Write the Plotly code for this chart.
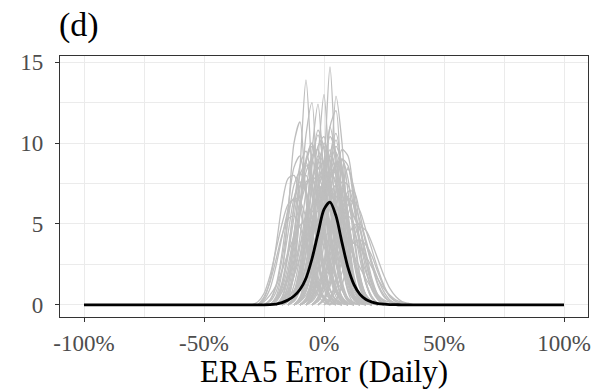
import plotly.graph_objects as go

# ---------------- data ----------------
# mean density curve (black), x in percent error
MEAN_X = [-100, -75, -50, -30, -27.5, -25, -22.5, -20, -17.5, -15, -12.5, -10, -7.5, -5, -2.5,
          0, 2.5, 5, 7.5, 10, 12.5, 15, 17.5, 20, 22.5, 25, 27.5, 30, 32.5, 35, 50, 75, 100]
MEAN_Y = [0, 0, 0, 0, 0, 0, 0.01, 0.05, 0.14, 0.30, 0.55, 0.95, 1.65, 2.85, 4.40,
          5.90, 6.35, 5.50, 3.85, 2.30, 1.25, 0.65, 0.33, 0.17, 0.08, 0.04, 0.02, 0.01, 0, 0, 0, 0, 0]

# individual station density curves (grey): start x (percent) and values every 2.5 %
GRID_STEP = 2.5
GREY_START = [
    -10, -20, -12.5, -5, -15, -17.5, -22.5, -7.5,
    -17.5, -15, -10, -22.5, -10, -5, -20, -12.5, -25, -2.5, -15, -10, -27.5,
    -17.5, -12.5, -22.5, -12.5, -5, -2.5, -17.5, -30, -27.5, -7.5, -20, 0, -22.5, -7.5,
    -20, -10, -27.5, 0, -22.5, -10,
    -15, -12.5, -20, -7.5, -17.5, -10, -25, -12.5, -5, -17.5,
    -22.5, -10, -15, -12.5, -20, -7.5, -15, -10, -5, -25,
    -12.5, -2.5, -17.5, -7.5, -15, -20, 0, -10, -12.5, -22.5,
    -5, -15, -10, -27.5, 2.5, -7.5, -20, -12.5, -2.5, -17.5,
]
GREY_VALUES = [
    [0, 0.3, 1.5, 4.5, 8.5, 14.7, 8.0, 3.0, 0.8, 0.1, 0],
    [0, 0.2, 1.2, 4.0, 8.5, 13.9, 8.0, 3.0, 1.0, 0.3, 0],
    [0, 0.3, 1.5, 4.5, 9.0, 13.0, 7.5, 3.0, 1.0, 0.2, 0],
    [0, 0.5, 2.5, 7.0, 12.9, 10.0, 4.5, 1.5, 0.4, 0],
    [0, 0.3, 1.5, 5.0, 9.5, 12.4, 7.5, 3.0, 0.8, 0.2, 0],
    [0, 0.4, 2.0, 6.0, 10.5, 12.5, 6.0, 2.0, 0.6, 0.1, 0],
    [0, 0.5, 2.0, 5.5, 10.0, 11.3, 6.5, 3.0, 1.0, 0.3, 0],
    [0, 0.4, 2.0, 5.5, 11.0, 12.0, 6.0, 2.0, 0.6, 0.1, 0],
    [0, 0.2, 0.8, 2.5, 5.5, 8.8, 10.5, 8.5, 4.8, 1.8, 0.5, 0.1, 0],
    [0, 0.3, 1.2, 3.3, 6.2, 8.7, 9.8, 7.5, 4.0, 1.5, 0.4, 0.1, 0],
    [0, 0.2, 0.8, 2.4, 5.2, 8.5, 10.2, 8.0, 4.2, 1.6, 0.5, 0.1, 0],
    [0, 0.3, 1.2, 3.2, 6.2, 8.6, 9.5, 7.5, 4.2, 1.6, 0.5, 0.1, 0],
    [0, 0.3, 1.2, 3.5, 7.5, 11.0, 9.0, 5.5, 2.8, 1.2, 0.4, 0.1, 0],
    [0, 0.3, 1.2, 3.5, 7.0, 9.0, 7.8, 4.5, 1.8, 0.5, 0.1, 0],
    [0, 0.2, 0.9, 2.8, 5.8, 8.8, 10.0, 8.0, 4.5, 1.8, 0.5, 0.1, 0],
    [0, 0.4, 1.8, 4.0, 7.2, 8.5, 7.8, 8.8, 4.8, 2.0, 0.5, 0.1, 0],
    [0, 0.3, 1.2, 3.2, 6.0, 8.5, 9.2, 7.0, 3.8, 1.5, 0.4, 0],
    [0, 0.3, 1.2, 3.5, 6.8, 8.5, 6.8, 3.5, 1.3, 0.4, 0.1, 0],
    [0, 0.4, 1.6, 4.1, 7.4, 9.0, 7.4, 4.1, 1.6, 0.4, 0],
    [0, 0.4, 1.6, 4.4, 7.9, 9.6, 7.9, 4.4, 1.6, 0.4, 0],
    [0, 0.4, 1.5, 3.6, 6.2, 7.8, 8.0, 6.5, 4.0, 1.8, 0.6, 0.15, 0],
    [0, 0.2, 0.6, 1.6, 3.2, 5.2, 6.8, 7.5, 6.8, 5.0, 3.0, 1.5, 0.6, 0.2, 0],
    [0, 0.2, 0.6, 1.5, 3.0, 4.8, 6.4, 7.0, 6.3, 4.6, 2.8, 1.4, 0.6, 0.2, 0],
    [0, 0.2, 0.8, 2.0, 3.9, 6.0, 7.4, 7.8, 6.6, 4.4, 2.4, 1.0, 0.3, 0],
    [0, 0.2, 0.9, 2.2, 4.4, 6.8, 8.2, 7.6, 5.4, 3.0, 1.3, 0.5, 0.1, 0],
    [0, 0.3, 1.3, 3.0, 5.0, 6.4, 6.5, 5.5, 4.8, 3.0, 1.3, 0.4, 0.1, 0],
    [0, 0.4, 1.5, 3.5, 5.5, 6.2, 5.4, 4.6, 3.2, 1.6, 0.6, 0.2, 0],
    [0, 0.3, 1.2, 3.0, 5.5, 7.8, 8.5, 7.2, 4.8, 2.5, 1.0, 0.3, 0],
    [0, 0.2, 0.7, 1.8, 3.4, 5.0, 6.2, 6.5, 5.8, 4.2, 2.6, 1.3, 0.5, 0.2, 0],
    [0, 0.5, 1.4, 2.8, 4.3, 5.3, 5.5, 4.8, 3.6, 2.2, 1.1, 0.4, 0.1, 0],
    [0, 0.3, 1.0, 2.4, 4.3, 6.2, 7.2, 6.6, 4.8, 2.8, 1.3, 0.5, 0.1, 0],
    [0, 0.3, 0.8, 1.8, 3.0, 4.5, 5.7, 6.4, 6.5, 5.8, 4.5, 3.0, 1.7, 0.8, 0.3, 0.1, 0],
    [0, 0.4, 1.3, 2.8, 4.2, 4.9, 5.0, 4.0, 2.6, 1.3, 0.6, 0.2, 0.1, 0],
    [0, 0.3, 1.2, 3.0, 5.4, 7.4, 8.0, 6.8, 4.5, 2.3, 0.9, 0.3, 0],
    [0, 0.4, 1.5, 3.8, 6.8, 8.8, 8.0, 5.3, 2.6, 1.0, 0.3, 0],
    [0, 0.2, 0.5, 0.9, 1.5, 2.2, 3.0, 3.7, 4.2, 4.5, 4.5, 4.2, 3.7, 3.0, 2.3, 1.6, 1.0, 0.6, 0.3, 0.15, 0.05, 0],
    [0, 0.2, 0.5, 1.0, 1.6, 2.3, 3.0, 3.5, 3.8, 3.8, 3.5, 3.0, 2.3, 1.6, 1.0, 0.6, 0.3, 0.15, 0.05, 0],
    [0, 0.2, 0.6, 1.2, 2.1, 3.2, 4.2, 4.9, 5.2, 5.1, 4.5, 3.6, 2.6, 1.6, 0.9, 0.4, 0.15, 0],
    [0, 0.3, 1.0, 2.0, 3.2, 3.9, 4.0, 3.7, 3.0, 2.0, 1.1, 0.5, 0.2, 0.1, 0],
    [0, 0.3, 0.8, 1.6, 2.6, 3.7, 4.7, 5.4, 5.8, 5.8, 5.2, 4.2, 3.0, 1.9, 1.0, 0.5, 0.2, 0],
    [0, 0.2, 0.6, 1.3, 2.3, 3.4, 4.5, 5.3, 5.5, 5.0, 4.0, 2.6, 1.4, 0.6, 0.2, 0],
    [0, 0.3, 1.0, 2.6, 5.0, 7.2, 8.0, 7.6, 5.2, 2.6, 1.0, 0.3, 0],
    [0, 0.5, 2.0, 4.6, 7.0, 7.6, 8.4, 6.0, 3.2, 1.2, 0.4, 0],
    [0, 0.4, 1.6, 3.6, 6.0, 8.2, 9.0, 7.0, 4.2, 2.0, 0.8, 0.3, 0],
    [0, 0.6, 2.2, 5.0, 7.8, 9.4, 8.2, 5.6, 3.0, 1.2, 0.4, 0.1, 0],
    [0, 0.5, 1.8, 4.2, 7.0, 9.2, 9.6, 7.2, 4.0, 1.6, 0.5, 0.1, 0],
    [0, 0.3, 1.3, 3.4, 6.4, 8.4, 7.4, 6.8, 5.0, 2.8, 1.2, 0.4, 0.1, 0],
    [0, 0.3, 1.1, 2.8, 5.2, 7.4, 8.2, 7.0, 4.8, 2.6, 1.2, 0.4, 0.1, 0],
    [0, 0.2, 0.9, 2.4, 4.8, 7.0, 8.0, 8.6, 6.6, 3.6, 1.4, 0.4, 0.1, 0],
    [0, 0.4, 1.6, 3.8, 6.2, 7.6, 7.4, 6.0, 4.0, 2.2, 0.9, 0.3, 0],
    [0, 0.2, 0.8, 2.2, 4.6, 7.4, 9.8, 10.4, 7.4, 3.6, 1.2, 0.3, 0],
    [0, 0.4, 1.4, 3.4, 6.0, 8.0, 8.8, 7.4, 5.0, 2.6, 1.0, 0.3, 0.1, 0],
    [0, 0.2, 0.8, 2.2, 4.4, 6.8, 8.6, 9.0, 7.0, 4.0, 1.8, 0.6, 0.1, 0],
    [0, 0.3, 1.2, 3.2, 6.0, 8.4, 8.8, 6.4, 3.8, 2.4, 1.4, 0.6, 0.2, 0],
    [0, 0.4, 1.5, 3.6, 6.2, 7.8, 7.0, 7.4, 6.0, 3.6, 1.6, 0.6, 0.2, 0],
    [0, 0.2, 0.7, 1.8, 3.6, 5.8, 7.6, 8.0, 6.8, 4.6, 2.6, 1.2, 0.4, 0.1, 0],
    [0, 0.3, 1.0, 2.6, 4.8, 6.6, 7.2, 6.4, 4.8, 3.2, 2.0, 1.0, 0.4, 0.1, 0],
    [0, 0.5, 2.0, 5.0, 8.6, 10.8, 9.6, 6.0, 2.8, 1.0, 0.3, 0],
    [0, 0.4, 1.8, 4.6, 8.2, 10.4, 9.4, 6.0, 2.8, 1.0, 0.3, 0],
    [0, 0.3, 1.4, 3.8, 7.0, 9.0, 8.6, 6.2, 3.4, 1.4, 0.5, 0.1, 0],
    [0, 0.2, 0.8, 2.2, 4.4, 6.6, 7.6, 7.0, 5.4, 3.6, 2.0, 0.9, 0.3, 0.1, 0],
    [0, 0.3, 1.1, 2.8, 5.0, 6.6, 6.8, 6.2, 5.6, 4.4, 2.8, 1.4, 0.6, 0.2, 0],
    [0, 0.3, 1.2, 3.0, 5.4, 7.0, 7.0, 5.6, 3.8, 2.6, 1.6, 0.8, 0.3, 0.1, 0],
    [0, 0.6, 2.4, 5.6, 8.8, 9.8, 7.8, 4.6, 2.2, 0.8, 0.2, 0],
    [0, 0.5, 2.2, 5.6, 9.2, 10.6, 8.4, 4.6, 1.8, 0.5, 0.1, 0],
    [0, 0.2, 0.9, 2.4, 4.6, 6.6, 7.4, 7.0, 6.2, 4.8, 3.0, 1.4, 0.5, 0.1, 0],
    [0, 0.5, 1.9, 4.4, 7.2, 8.6, 8.0, 6.2, 4.0, 2.0, 0.8, 0.2, 0],
    [0, 0.4, 1.6, 3.6, 5.6, 6.4, 5.8, 4.6, 3.4, 2.2, 1.2, 0.5, 0.2, 0],
    [0, 0.2, 1.0, 2.8, 5.6, 8.4, 9.8, 8.6, 5.6, 2.8, 1.1, 0.3, 0.1, 0],
    [0, 0.3, 1.4, 3.8, 7.4, 10.0, 9.0, 5.8, 3.0, 1.4, 0.5, 0.1, 0],
    [0, 0.3, 1.0, 2.4, 4.4, 6.4, 7.6, 7.8, 6.6, 4.6, 2.6, 1.1, 0.4, 0.1, 0],
    [0, 0.2, 0.9, 2.4, 4.4, 6.0, 6.6, 6.2, 5.2, 3.8, 2.4, 1.2, 0.5, 0.2, 0],
    [0, 0.4, 1.6, 4.0, 7.2, 9.2, 8.8, 7.0, 4.6, 2.4, 0.9, 0.3, 0],
    [0, 0.3, 1.2, 3.2, 6.0, 8.0, 8.2, 7.0, 5.2, 3.2, 1.6, 0.6, 0.2, 0],
    [0, 0.3, 1.0, 2.4, 4.2, 5.8, 6.6, 6.4, 5.4, 4.0, 2.6, 1.4, 0.6, 0.2, 0],
    [0, 0.3, 1.2, 2.8, 4.2, 4.8, 4.6, 3.8, 2.8, 1.8, 1.0, 0.5, 0.2, 0.1, 0],
    [0, 0.2, 0.8, 2.2, 4.6, 7.6, 9.6, 9.2, 6.6, 3.6, 1.4, 0.4, 0.1, 0],
    [0, 0.3, 1.2, 3.2, 6.2, 9.0, 10.0, 8.0, 4.8, 2.2, 0.8, 0.2, 0],
    [0, 0.2, 0.8, 2.2, 4.6, 7.4, 9.2, 8.4, 5.8, 3.0, 1.2, 0.4, 0.1, 0],
    [0, 0.4, 1.8, 4.4, 7.2, 8.4, 7.2, 4.8, 2.6, 1.2, 0.5, 0.2, 0],
    [0, 0.2, 0.7, 1.9, 3.8, 6.0, 7.8, 8.4, 7.6, 5.6, 3.4, 1.6, 0.6, 0.2, 0],
]

X_TICKS = [-100, -50, 0, 50, 100]
X_TICK_TEXT = ["-100%", "-50%", "0%", "50%", "100%"]
X_MINOR = [-75, -25, 25, 75]
Y_TICKS = [0, 5, 10, 15]
Y_MINOR = [2.5, 7.5, 12.5]

# ---------------- figure ----------------
fig = go.Figure()
for start, vals in zip(GREY_START, GREY_VALUES):
    xs = [start + GRID_STEP * i for i in range(len(vals))]
    fig.add_trace(go.Scatter(x=xs, y=vals, mode="lines",
                             line=dict(color="#BEBEBE", width=1.3, shape="spline", smoothing=0.8),
                             showlegend=False, hoverinfo="skip"))
fig.add_trace(go.Scatter(x=MEAN_X, y=MEAN_Y, mode="lines",
                         line=dict(color="#000000", width=2.8, shape="spline", smoothing=0.8),
                         showlegend=False))

serif = "Liberation Serif, Times New Roman, serif"
fig.update_layout(
    width=597, height=389,
    margin=dict(l=60, r=9, t=56, b=72, autoexpand=False),
    plot_bgcolor="white", paper_bgcolor="white",
    font=dict(family=serif, color="#4D4D4D", size=23),
    showlegend=False,
    annotations=[dict(text="(d)", x=0, y=1, xref="paper", yref="paper",
                      xanchor="left", yanchor="bottom", xshift=-3, yshift=10,
                      showarrow=False, font=dict(family=serif, size=34, color="black"))],
)
axis_common = dict(showline=True, mirror=True, linecolor="#333333", linewidth=1.4,
                   ticks="outside", ticklen=4, tickwidth=1.4, tickcolor="#333333",
                   showgrid=True, gridcolor="#EBEBEB", gridwidth=1.3, zeroline=False,
                   automargin=False)
fig.update_xaxes(**axis_common, range=[-110, 110], tickmode="array",
                 tickvals=X_TICKS, ticktext=X_TICK_TEXT, ticklabelstandoff=1,
                 tickfont=dict(family=serif, size=23, color="#4D4D4D"),
                 minor=dict(tickmode="array", tickvals=X_MINOR, showgrid=True,
                            gridcolor="#EBEBEB", gridwidth=0.7, ticks=""),
                 title=dict(text="ERA5 Error (Daily)", font=dict(family=serif, size=31, color="black"),
                            standoff=4))
fig.update_yaxes(**axis_common, range=[-0.75, 15.38], tickmode="array",
                 tickvals=Y_TICKS, ticktext=[str(v) for v in Y_TICKS], ticklabelstandoff=7,
                 tickfont=dict(family=serif, size=23, color="#4D4D4D"),
                 minor=dict(tickmode="array", tickvals=Y_MINOR, showgrid=True,
                            gridcolor="#EBEBEB", gridwidth=0.7, ticks=""))

fig.write_html("out.html")
